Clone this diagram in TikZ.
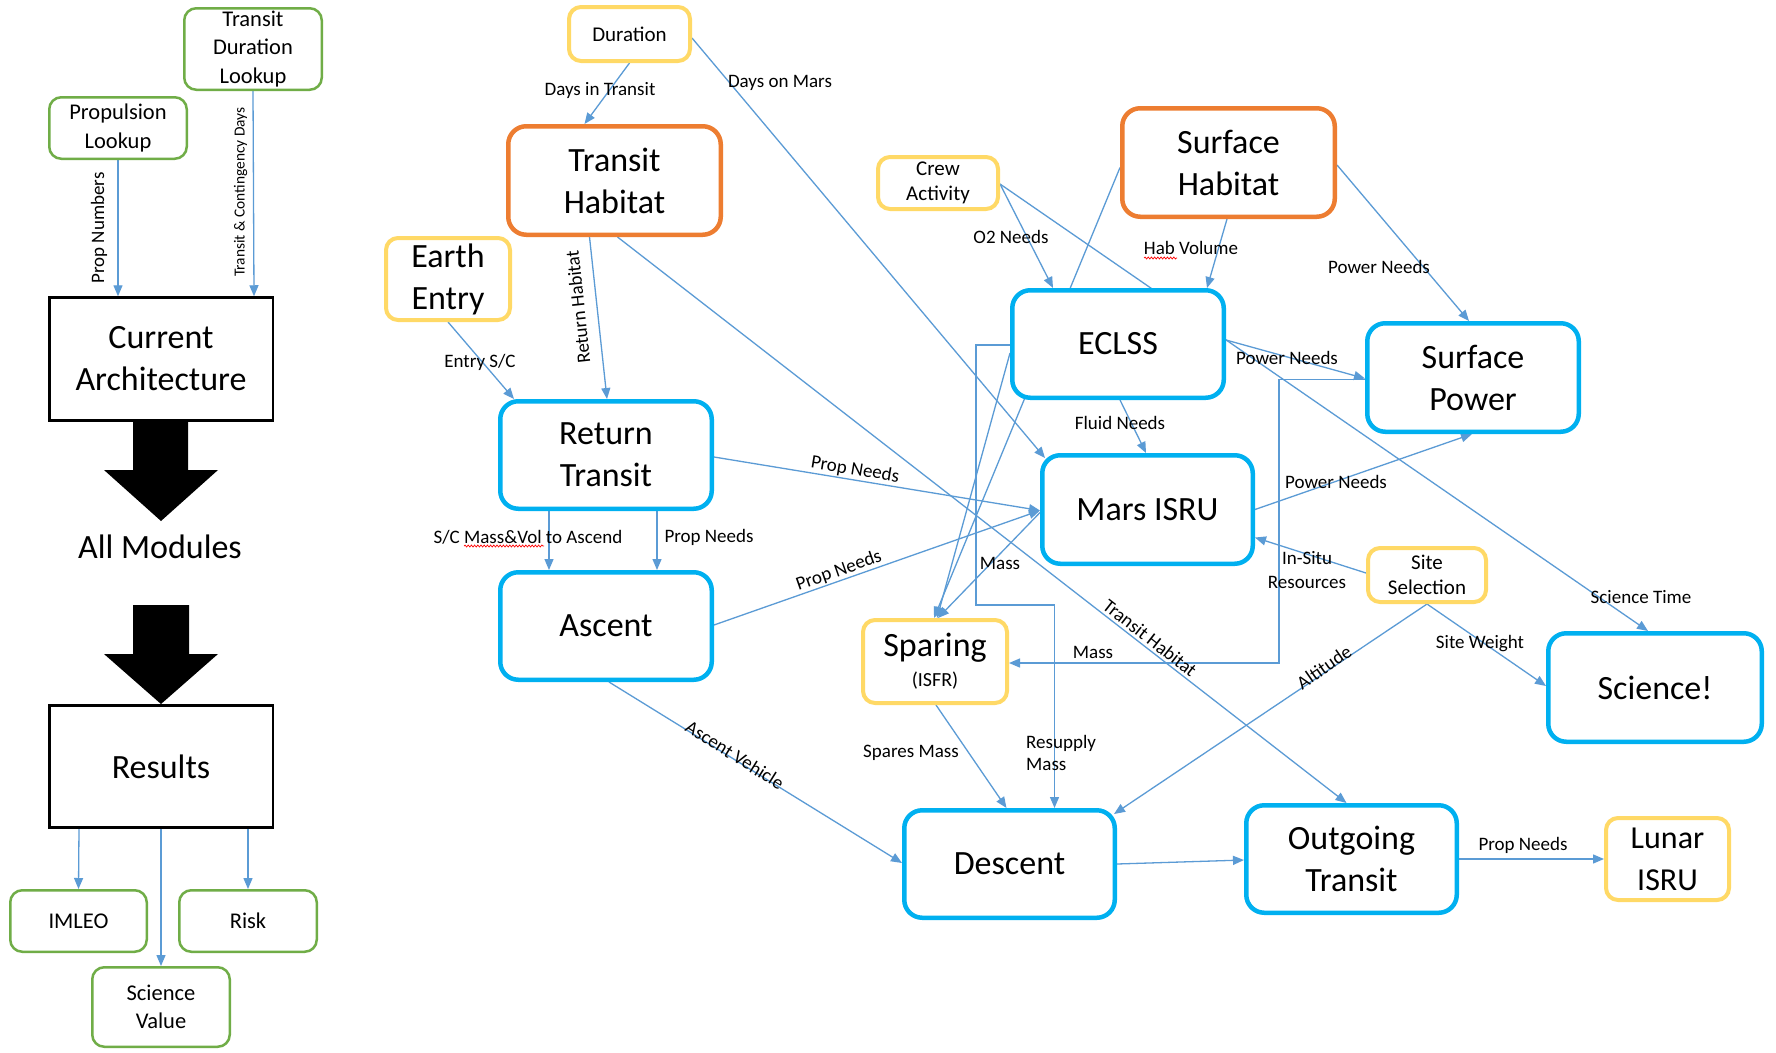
\documentclass[tikz,border=0pt]{standalone}
\usepackage{fontspec}
\setmainfont{Carlito}
\usetikzlibrary{arrows.meta,calc,decorations.pathmorphing}
\definecolor{cblue}{HTML}{00B0F0}
\definecolor{corange}{HTML}{ED7D31}
\definecolor{cyellow}{HTML}{FFD966}
\definecolor{cgreen}{HTML}{70AD47}
\definecolor{cline}{HTML}{5B9BD5}
\pgfdeclarelayer{bg}
\pgfsetlayers{bg,main}
\newcommand{\fsL}{\fontsize{34}{42}\selectfont}
\newcommand{\fsLu}{\fontsize{32}{42}\selectfont}
\newcommand{\fsM}{\fontsize{21}{25.5}\selectfont}
\newcommand{\fsG}{\fontsize{22.5}{28.5}\selectfont}
\newcommand{\fsS}{\fontsize{19}{23}\selectfont}
\newcommand{\fsT}{\fontsize{15.4}{18}\selectfont}
\begin{document}
\begin{tikzpicture}[x=1pt,y=-1pt,
  box/.style={align=center, inner sep=0pt, fill=white, text=black},
  bluebox/.style={box, draw=cblue, line width=4.5pt, rounded corners=18pt, font=\fsL,
    minimum width=211.5pt, minimum height=107.5pt},
  orangebox/.style={bluebox, draw=corange},
  yellowbox/.style={box, draw=cyellow, line width=4pt, rounded corners=12pt, font=\fsM},
  greenbox/.style={box, draw=cgreen, line width=2.5pt, rounded corners=12pt, font=\fsG,
    minimum width=137.5pt, minimum height=61.5pt},
  blackbox/.style={box, draw=black, line width=2.5pt, font=\fsL,
    minimum width=223.5pt, minimum height=123pt},
  conn/.style={draw=cline, line width=1.3pt, -{Triangle[length=11pt,width=9pt]}},
  lbl/.style={font=\fsS, inner sep=0pt, text=black},
  squig/.style={draw=red, line width=0.7pt, decorate,
    decoration={snake, amplitude=1pt, segment length=3.2pt}}
]
\useasboundingbox (0,0) rectangle (1776,1052);

% ---------- left panel ----------
\node[greenbox, minimum height=81.5pt] (tdl) at (253,49) {Transit\\Duration\\Lookup};
\node[greenbox] (prop) at (118,128) {Propulsion\\Lookup};
\node[blackbox] (curr) at (161,359) {Current\\Architecture};
\node[font=\fsL, inner sep=0pt] (allmod) at (160,547) {All Modules};
\node[blackbox, minimum height=122pt] (results) at (161,766.5) {Results};
\node[greenbox, minimum width=136.5pt] (imleo) at (78.5,921) {IMLEO};
\node[greenbox] (risk) at (248,921) {Risk};
\node[greenbox, minimum height=79.5pt] (sciv) at (161,1007) {Science\\Value};

\fill[black] (133,422) -- (188,422) -- (188,470) -- (218,470) -- (161,521)
  -- (104,470) -- (133,470) -- cycle;
\fill[black] (133,605) -- (189,605) -- (189,654) -- (218,654) -- (161,704)
  -- (104,654) -- (133,654) -- cycle;

% ---------- main nodes ----------
\node[yellowbox, minimum width=121pt, minimum height=54pt] (dur) at (629.5,34) {Duration};
\node[orangebox, minimum width=212.5pt, minimum height=108.5pt] (th) at (614.5,180.5) {Transit\\Habitat};
\node[yellowbox, font=\fsL, minimum width=124pt, minimum height=82pt] (ee) at (448,279) {Earth\\Entry};
\node[yellowbox, minimum width=120pt, minimum height=52pt] (crew) at (938,183) {Crew\\Activity};
\node[orangebox, minimum width=212.5pt, minimum height=108.5pt] (sh) at (1228.5,162.5) {Surface\\Habitat};
\node[bluebox] (eclss) at (1118,344) {ECLSS};
\node[bluebox, minimum height=108.5pt] (sp) at (1473,377.5) {Surface\\Power};
\node[bluebox] (rt) at (606,455) {Return\\Transit};
\node[bluebox, minimum width=210.5pt, minimum height=108.5pt] (isru) at (1147.5,509.5) {Mars ISRU};
\node[bluebox] (asc) at (606,626) {Ascent};
\node[yellowbox, minimum width=118pt, minimum height=54pt] (site) at (1427,575) {Site\\Selection};
\node[yellowbox, font=\fsL, minimum width=144pt, minimum height=83pt] (spar) at (935,661.5)
  {Sparing\\[-12pt]{\fontsize{20}{24}\selectfont (ISFR)}};
\node[bluebox, minimum width=213.5pt, minimum height=108.5pt] (sci) at (1655,687.5) {Science!};
\node[bluebox, minimum width=210.5pt] (desc) at (1009.5,864) {Descent};
\node[bluebox, minimum width=210.5pt] (out) at (1351.5,859) {Outgoing\\Transit};
\node[yellowbox, font=\fsLu, minimum width=123pt, minimum height=82pt] (lunar) at (1667.5,859) {Lunar\\ISRU};

% ---------- connectors ----------
\begin{pgfonlayer}{bg}
\fill[white] (0,0) rectangle (1776,1052);
% left panel
\draw[conn] (prop.south) -- ($(curr.north)+(-43,0)$);
\draw[conn] (tdl.south) -- ($(curr.north)+(93,0)$);
\draw[conn] ($(results.south)+(-82,0)$) -- (imleo.north);
\draw[conn] (results.south) -- (sciv.north);
\draw[conn] ($(results.south)+(87,0)$) -- (risk.north);
% main
\draw[conn] (dur.south) -- ($(th.north)+(-30,0)$);
\draw[conn] ($(dur.east)+(0,4)$) -- ($(isru.north west)+(5,5)$);
\draw[conn] (ee.south) -- ($(rt.north west)+(16,0)$);
\draw[conn] ($(th.south)+(-25,0)$) -- ($(rt.north)+(1,0)$);
\draw[conn] ($(th.south)+(3,0)$) -- ($(out.north)+(-5,0)$);
\draw[conn] ($(rt.east)+(0,2)$) -- ($(isru.west)+(0,1)$);
\draw[conn] ($(asc.east)+(0,-1)$) -- ($(isru.west)+(0,1)$);
\draw[conn] ($(rt.south)+(-57,0)$) -- ($(asc.north)+(-57,0)$);
\draw[conn] ($(rt.south)+(51,0)$) -- ($(asc.north)+(51,0)$);
\draw[conn] ($(asc.south)+(3,0)$) -- ($(desc.west)+(0,-1)$);
\draw[conn] ($(spar.south)+(1,0)$) -- ($(desc.north)+(-3,0)$);
\coordinate (rsA) at (976,605);
\draw[conn] ($(eclss.west)+(0,1)$) -| (rsA) -| ($(desc.north)+(45,0)$);
\coordinate (msA) at (1279,663);
\draw[conn] ($(sp.west)+(0,2)$) -| (msA) -- ($(spar.east)+(0,1.5)$);
\draw[conn] ($(eclss.south)+(2,0)$) -- ($(isru.north)+(-1.5,0)$);
\draw[conn] ($(isru.west)+(0,3)$) -- ($(spar.north)+(3,0)$);
\draw[conn] ($(sh.south)+(-1.5,0)$) -- ($(eclss.north)+(89,0)$);
\draw[conn] ($(sh.east)+(0,2.5)$) -- ($(sp.north)+(-4,0)$);
\draw[conn] ($(crew.east)+(0,1)$) -- ($(eclss.north)+(-65,0)$);
\draw[conn] ($(crew.east)+(0,1)$) -- ($(sci.north)+(-7,0)$);
\draw[conn] ($(sh.west)+(0,5)$) -- ($(spar.north)+(-1,0)$);
\draw[conn] ($(eclss.west)+(0,9)$) -- ($(spar.north)+(2,0)$);
\draw[conn] ($(eclss.east)+(0,-4)$) -- ($(sp.west)+(0,1)$);
\draw[conn] (isru.east) -- ($(sp.south)+(-1,0)$);
\draw[conn] ($(site.west)+(0,-2)$) -- ($(isru.east)+(0,28)$);
\draw[conn] (site.south) -- ($(desc.north east)+(-3,6)$);
\draw[conn] (site.south) -- ($(sci.west)+(0,-1.5)$);
\draw[conn] (desc.east) -- ($(out.west)+(0,1)$);
\draw[conn] (out.east) -- (lunar.west);
\end{pgfonlayer}

% ---------- labels ----------
\node[lbl, rotate=90] (lPN) at (99,228) {Prop Numbers};
\node[lbl, rotate=90, font=\fsT] (lTC) at (240.5,192) {Transit \& Contingency Days};
\node[lbl] (lDT) at (600,90) {Days in Transit};
\node[lbl] (lDM) at (780,83) {Days on Mars};
\node[lbl] (lES) at (480,362) {Entry S/C};
\node[lbl, rotate=96] (lRH) at (578,307) {Return Habitat};
\node[lbl, rotate=-38] (lTH) at (1150,638) {Transit Habitat};
\node[lbl, rotate=-9.4] (lPN1) at (855,470) {Prop Needs};
\node[lbl, rotate=19.4] (lPN2) at (839,571) {Prop Needs};
\node[lbl] (lSC) at (528,537) {S/C Mass\&Vol to Ascend};
\node[lbl] (lPN3) at (709,537) {Prop Needs};
\node[lbl, rotate=-32] (lAV) at (735,755) {Ascent Vehicle};
\node[lbl] (lSM) at (911,753) {Spares Mass};
\node[lbl, align=left, anchor=west, font=\fontsize{19}{22.5}\selectfont] (lRM) at (1026,753) {Resupply\\Mass};
\node[lbl] (lM1) at (1000,563) {Mass};
\node[lbl] (lM2) at (1093,652) {Mass};
\node[lbl] (lFN) at (1120,423) {Fluid Needs};
\node[lbl] (lO2) at (1011,237) {O2 Needs};
\node[lbl] (lHV) at (1191,248) {Hab Volume};
\node[lbl] (lPW1) at (1379,267) {Power Needs};
\node[lbl] (lPW2) at (1287,358) {Power Needs};
\node[lbl] (lPW3) at (1336,482) {Power Needs};
\node[lbl, align=center, font=\fontsize{19}{24}\selectfont] (lIS) at (1307,570.5) {In-Situ\\Resources};
\node[lbl, rotate=35] (lAL) at (1324,667) {Altitude};
\node[lbl] (lSW) at (1480,644) {Site Weight};
\node[lbl] (lST) at (1641,597) {Science Time};
\node[lbl] (lPN4) at (1523,845) {Prop Needs};

% spell-check squiggles
\draw[squig] (464,546) -- (544,546);
\draw[squig] (1144,258) -- (1177,258);
\end{tikzpicture}
\end{document}
